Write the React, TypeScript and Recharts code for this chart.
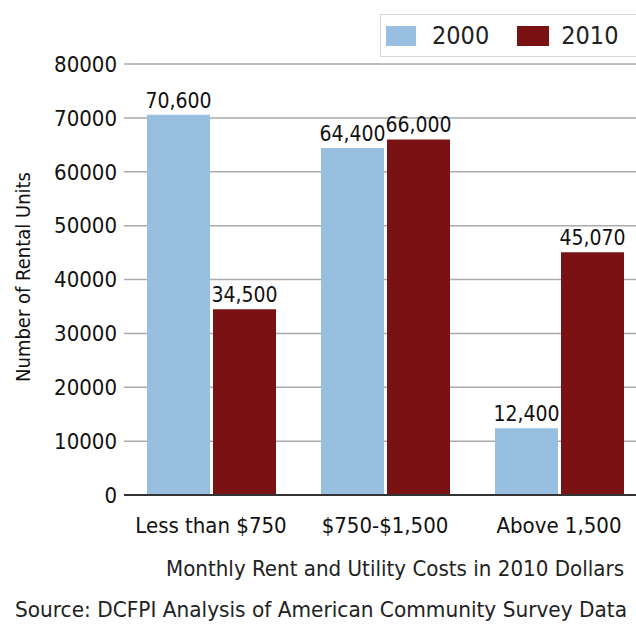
import React from "react";
import { BarChart, Bar, XAxis, YAxis, CartesianGrid, Legend, LabelList } from "recharts";

const categories = ["Less than $750", "$750-$1,500", "Above 1,500"];
const values2000 = [70600, 64400, 12400];
const values2010 = [34500, 66000, 45070];
const yTicks = [0, 10000, 20000, 30000, 40000, 50000, 60000, 70000, 80000];
const seriesNames = ["2000", "2010"];

const data = categories.map((c, i) => ({ category: c, y2000: values2000[i], y2010: values2010[i] }));

const FONT = "'DejaVu Sans Condensed', 'Liberation Sans Narrow', 'Arial Narrow', sans-serif";
const BLUE = "#98BFDF";
const RED = "#7A1214";

const fmt = (v: any) => Number(v).toLocaleString("en-US");

const LegendBox = () => (
  <div
    style={{
      width: 262,
      height: 43,
      boxSizing: "border-box",
      border: "1px solid #d6d6d6",
      background: "#fff",
      display: "flex",
      alignItems: "center",
      fontFamily: FONT,
      fontSize: 25,
      color: "#222",
    }}
  >
    <div style={{ width: 30, height: 20, background: BLUE, marginLeft: 5 }} />
    <span style={{ marginLeft: 16 }}>{seriesNames[0]}</span>
    <div style={{ width: 32, height: 20, background: RED, marginLeft: 28 }} />
    <span style={{ marginLeft: 12 }}>{seriesNames[1]}</span>
  </div>
);

export default function App() {
  return (
    <div style={{ position: "fixed", left: 0, top: 0, width: 636, height: 624, overflow: "hidden", background: "#fff" }}>
      <BarChart
        width={660}
        height={624}
        data={data}
        margin={{ top: 64, right: 14, bottom: 89, left: 0 }}
        barGap={3}
      >
        <CartesianGrid vertical={false} stroke="#aaaaaa" strokeWidth={1.5} />
        <XAxis
          dataKey="category"
          height={40}
          axisLine={{ stroke: "#333", strokeWidth: 2 }}
          tickLine={false}
          tickSize={6}
          tickMargin={16}
          tick={{ fill: "#111", fontSize: 22, fontFamily: FONT }}
          interval={0}
        />
        <YAxis
          width={124}
          domain={[0, 80000]}
          ticks={yTicks}
          axisLine={false}
          tickLine={false}
          tickSize={6}
          tickMargin={1}
          tick={{ fill: "#111", fontSize: 22, fontFamily: FONT }}
        />
        <Legend
          layout="horizontal"
          verticalAlign="middle"
          align="center"
          wrapperStyle={{ top: 14, left: 380, width: 262 }}
          content={() => <LegendBox />}
        />
        <Bar dataKey="y2000" name={seriesNames[0]} fill={BLUE} barSize={63} isAnimationActive={false}>
          <LabelList dataKey="y2000" position="top" offset={7} formatter={fmt} style={{ fill: "#111", fontSize: 21, fontFamily: FONT }} />
        </Bar>
        <Bar dataKey="y2010" name={seriesNames[1]} fill={RED} barSize={63} isAnimationActive={false}>
          <LabelList dataKey="y2010" position="top" offset={7} formatter={fmt} style={{ fill: "#111", fontSize: 21, fontFamily: FONT }} />
        </Bar>
      </BarChart>
      <svg width={636} height={624} style={{ position: "absolute", left: 0, top: 0, pointerEvents: "none" }}>
        <text x={23} y={277} transform="rotate(-90 23 277)" textAnchor="middle" dominantBaseline="central" fontFamily={FONT} fontSize={20} fill="#111">
          Number of Rental Units
        </text>
        <text x={395} y={576} textAnchor="middle" fontFamily={FONT} fontSize={22} fill="#222" textLength={458} lengthAdjust="spacingAndGlyphs">
          Monthly Rent and Utility Costs in 2010 Dollars
        </text>
        <text x={321} y={617} textAnchor="middle" fontFamily={FONT} fontSize={21} fill="#222" textLength={612} lengthAdjust="spacingAndGlyphs">
          Source: DCFPI Analysis of American Community Survey Data
        </text>
      </svg>
    </div>
  );
}
